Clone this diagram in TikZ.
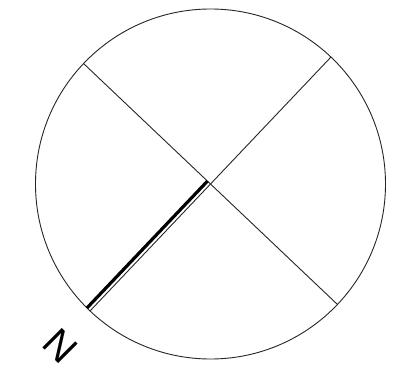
\documentclass[tikz,border=0pt]{standalone}
\usepackage{fontspec}
\setmainfont{Liberation Sans}
\usetikzlibrary{calc}
\begin{document}
\begin{tikzpicture}[x=1pt,y=1pt,
  thinline/.style={line width=0.9pt,draw=black!85},
  thickline/.style={line width=3.2pt,draw=black},
  northlabel/.style={font=\fontsize{40}{40}\selectfont,inner sep=0pt,rotate=-45}]
\fill[white] (0,0) rectangle (415,373);
\useasboundingbox (0,0) rectangle (415,373);
\coordinate (c) at (210.5,189);
\coordinate (a) at ($(c)+(136.5:175)$);
\coordinate (cc) at ($(c)+(-43.5:175)$);
\coordinate (b) at ($(c)+(46.5:175)$);
\coordinate (d) at ($(c)+(226.5:175)$);
\coordinate (s) at ($(c)+(136.5:4.2)$);
\coordinate (e) at ($(c)+(225.1:175)$);
\draw[thinline] (c) circle (175);
\draw[thinline] (a) -- (cc);
\draw[thinline] (b) -- (d);
\draw[thickline] (s) -- (e);
\node[northlabel] (n) at (60,27) {N};
\end{tikzpicture}
\end{document}
